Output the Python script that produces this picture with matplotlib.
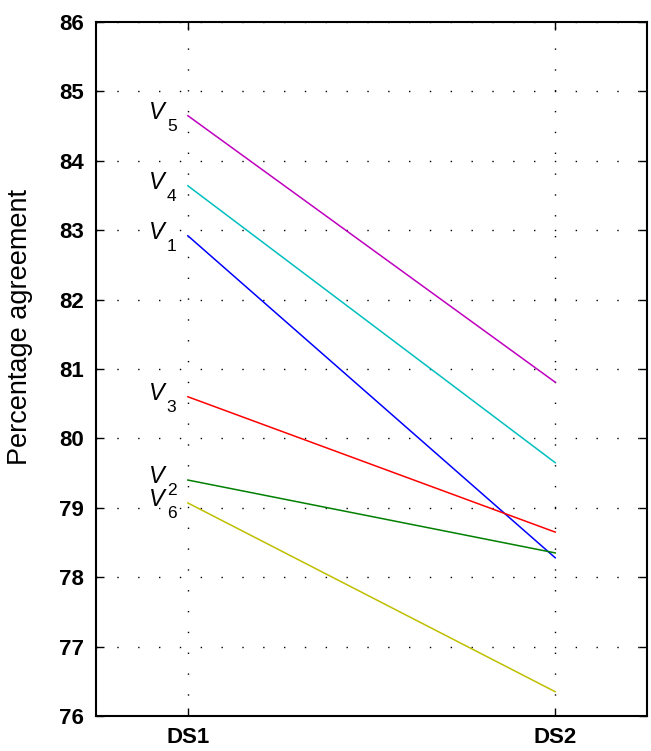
import matplotlib.pyplot as plt

plt.rcParams['font.family'] = ['Liberation Sans', 'DejaVu Sans']

datasets = ['DS1', 'DS2']
series_letters = ['V', 'V', 'V', 'V', 'V', 'V']
series_index = ['5', '4', '1', '3', '2', '6']
ds1_values = [84.65, 83.64, 82.92, 80.60, 79.40, 79.07]
ds2_values = [80.81, 79.65, 78.28, 78.65, 78.35, 76.35]
colors = [(0.75, 0, 0.75), (0, 0.75, 0.75), (0, 0, 1), (1, 0, 0), (0, 0.5, 0), (0.75, 0.75, 0)]

fig = plt.figure(figsize=(6.51, 7.51), dpi=100)
ax = fig.add_axes([0.1475, 0.0466, 0.8464, 0.9241])

x = [1, 2]
for letter, idx, a, b, c in zip(series_letters, series_index, ds1_values, ds2_values, colors):
    ax.plot(x, [a, b], color=c, linewidth=1.1, zorder=3)
    # V in italics, index as a lowered smaller digit (MATLAB-style subscript)
    ax.annotate(letter, (1, a), xytext=(-23, -3), textcoords='offset pixels',
                ha='right', va='baseline', fontsize=17, fontstyle='italic')
    ax.annotate(idx, (1, a), xytext=(-21, -15), textcoords='offset pixels',
                ha='left', va='baseline', fontsize=12.5)

ax.set_xlim(0.75, 2.25)
ax.set_ylim(76, 86)
ax.set_xticks(x)
ax.set_xticklabels(datasets, fontsize=16, fontweight='bold')
ax.set_yticks(range(76, 87))
ax.set_yticklabels([str(v) for v in range(76, 87)], fontsize=16, fontweight='bold')
ax.set_ylabel('Percentage agreement', fontsize=19.5)
ax.yaxis.set_label_coords(-0.115, 0.56)

ax.grid(True, color='black', linestyle=(0, (1, 14)), linewidth=1.0)
ax.tick_params(axis='y', direction='in', length=6, width=1, right=True, pad=9)
ax.tick_params(axis='x', direction='in', length=6, width=1, top=True, pad=8)
for s in ax.spines.values():
    s.set_linewidth(1.5)

fig.savefig('out.png', dpi=100)
